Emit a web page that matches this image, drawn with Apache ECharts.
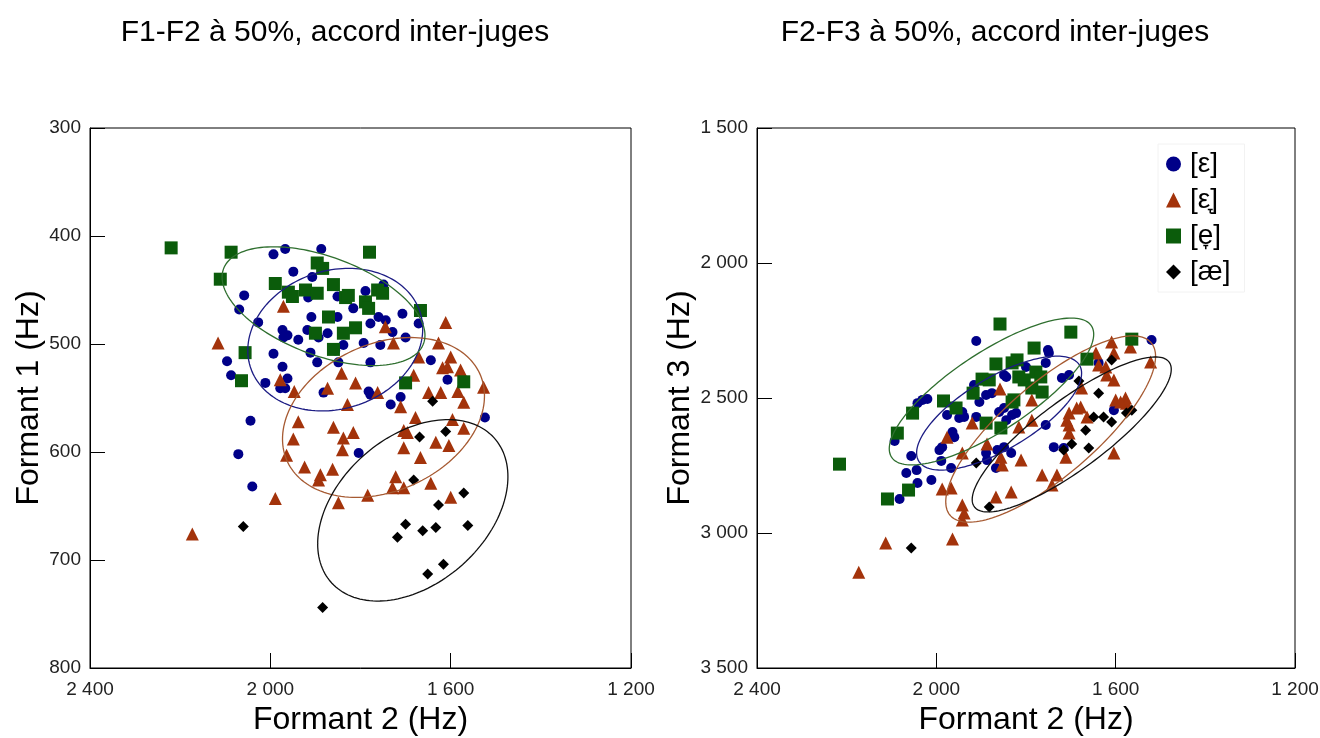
<!DOCTYPE html>
<html><head><meta charset="utf-8">
<script src="https://cdn.jsdelivr.net/npm/echarts@6/dist/echarts.min.js"></script>
<style>html,body{margin:0;padding:0;background:#fff}#c{width:1320px;height:738px}</style>
</head><body><div id="c"></div>
<script>
// ---- Data ----
const seriesNames = ['[ε]', '[ε\u031E]', '[e\u031E]', '[æ]'];
const chartTitles = ['F1-F2 à 50%, accord inter-juges', 'F2-F3 à 50%, accord inter-juges'];
const xTicks = [2400, 2000, 1600, 1200];
const leftYTicks = [300, 400, 500, 600, 700, 800];
const rightYTicks = [1500, 2000, 2500, 3000, 3500];

// Left chart: [F2, F1]
const leftEps = [[1993,417],[1967,412],[1887,412],[1949,433],[1907,438],[2058,455],[2069,468],[2027,480],[1909,475],[1973,487],[1962,492],[1971,494],[1938,496],[1918,487],[1873,490],[1893,494],[1993,509],[2096,516],[1911,508],[1896,517],[1973,521],[2087,529],[2011,536],[1978,541],[1967,541],[1962,532],[1882,545],[1851,456],[1851,475],[1916,457],[1856,506],[1749,445],[1789,451],[1816,467],[1707,472],[1760,475],[1744,478],[1778,481],[1671,481],[1729,489],[1700,494],[1793,499],[1756,501],[1838,501],[1778,517],[1849,517],[1644,515],[1607,533],[1782,544],[1711,549],[2044,571],[2071,602],[2040,632],[1778,547],[1733,556],[1804,601],[1524,568]];
const leftEpsLow = [[1971,465],[2116,499],[1978,533],[1947,544],[1873,541],[1842,527],[1611,480],[1745,484],[1727,499],[1627,499],[1671,512],[1600,512],[1618,522],[1607,521],[1578,524],[1682,529],[1811,536],[1527,540],[1649,545],[1622,545],[1584,544],[1571,554],[1762,545],[1829,556],[1938,572],[1860,577],[1949,588],[1838,587],[1840,598],[1964,603],[1924,614],[1889,621],[1893,626],[1862,616],[1989,643],[1849,647],[2173,676],[1711,558],[1678,568],[1816,582],[1704,580],[1696,582],[1596,570],[1571,578],[1633,591],[1604,594],[1704,596],[1667,605],[1722,623],[1729,633],[1704,633],[1644,629],[1784,640],[1600,642]];
const leftELow = [[2220,411],[2087,415],[2111,440],[1989,444],[1896,425],[1884,430],[1860,445],[1960,452],[1951,456],[1922,450],[1896,453],[1833,457],[1871,475],[1900,490],[1838,490],[1860,505],[2056,508],[2064,534],[1780,415],[1827,455],[1789,461],[1782,467],[1762,450],[1751,453],[1667,469],[1811,485],[1700,536],[1571,535]];
const leftAe = [[2060,669],[1884,744],[1640,553],[1611,581],[1669,586],[1682,626],[1571,638],[1627,649],[1700,667],[1718,679],[1662,673],[1633,670],[1562,668],[1616,704],[1651,713]];
// Ellipses: [centre F2, centre F1, half-width F2, half-height F1, correlation]
const leftEllipses = [[1856,496,194,66,0.15],[1749,568,224,74,0.27],[1882,465,225,55,-0.49],[1684,654,211,84,0.37]];

// Right chart: [F2, F3]
const rightEps = [[1911,2289],[2031,2507],[2020,2504],[2093,2659],[2056,2715],[2067,2778],[2044,2767],[2042,2815],[2011,2804],[2082,2874],[1989,2733],[1967,2759],[1916,2452],[1889,2489],[1876,2482],[1976,2563],[1949,2574],[1938,2570],[1964,2626],[1960,2645],[1987,2682],[1993,2693],[1911,2570],[1860,2552],[1844,2582],[1887,2730],[1867,2759],[1849,2682],[1833,2704],[1844,2422],[1751,2322],[1749,2333],[1756,2370],[1800,2385],[1849,2415],[1720,2426],[1704,2415],[1520,2285],[1638,2370],[1604,2545],[1756,2600],[1738,2682],[1716,2685],[1831,2563],[1822,2556],[1849,2537],[2042,2519],[1904,2515],[1942,2552],[1889,2704],[1864,2693]];
const rightEpsLow = [[1858,2467],[1920,2593],[1976,2645],[1887,2670],[1942,2704],[1856,2719],[1853,2748],[1987,2837],[1967,2833],[1942,2896],[1938,2926],[1942,2952],[1867,2867],[1833,2848],[2113,3037],[1964,3022],[2173,3145],[1609,2293],[1604,2333],[1567,2311],[1644,2333],[1638,2378],[1622,2385],[1522,2367],[1604,2433],[1620,2415],[1676,2463],[1600,2507],[1578,2500],[1576,2519],[1704,2556],[1709,2582],[1678,2533],[1664,2570],[1704,2600],[1704,2630],[1711,2719],[1604,2704],[1787,2582],[1764,2785],[1731,2785],[1742,2822],[1816,2607],[1811,2730],[1787,2507],[1589,2515],[1687,2537]];
const rightELow = [[1858,2226],[2216,2745],[2109,2874],[2087,2630],[2053,2556],[1984,2511],[1956,2537],[1867,2374],[1831,2370],[1898,2430],[1882,2433],[1918,2482],[2062,2841],[1889,2593],[1856,2611],[1827,2507],[1700,2256],[1564,2282],[1782,2315],[1664,2356],[1820,2359],[1778,2404],[1767,2422],[1816,2422],[1804,2433],[1787,2463],[1764,2478],[1831,2515]];
const rightAe = [[1911,2741],[1882,2904],[2056,3056],[1609,2359],[1682,2437],[1638,2482],[1649,2570],[1627,2570],[1609,2589],[1564,2545],[1576,2556],[1667,2619],[1698,2670],[1716,2693],[1660,2685]];
const rightEllipses = [[1860,2556,184,211,0.7],[1745,2615,234,345,0.78],[1877,2476,228,272,0.78],[1698,2635,222,287,0.84]];

// ---- Styles ----
const markerColors = ['#000088', '#a3330b', '#0b5c0b', '#000000'];
const ellipseColors = ['#1c1c84', '#a65a32', '#2f6f2f', '#111111'];
const symbols = ['circle', 'triangle', 'rect', 'diamond'];
const symbolSizes = [10, 13, 13, 11];
const FONT = "'Liberation Sans', Arial, 'DejaVu Sans', sans-serif";

const fmt = v => String(v).replace(/\B(?=(\d{3})+(?!\d))/g, ' ');

function makeX(gridIndex) {
  return {
    gridIndex, type: 'value', min: 1200, max: 2400, interval: 400, inverse: true,
    name: 'Formant 2 (Hz)', nameLocation: 'middle', nameGap: 36,
    nameTextStyle: { fontSize: 32, fontFamily: FONT, color: '#000' },
    axisLine: { show: true, lineStyle: { color: '#000', width: 1 } },
    axisTick: { show: true, inside: true, length: 15, lineStyle: { color: '#000' } },
    axisLabel: { fontSize: 19, fontFamily: FONT, color: '#222', margin: 12, formatter: fmt },
    splitLine: { show: false }
  };
}
function makeY(gridIndex, min, max, interval, name, gap) {
  return {
    gridIndex, type: 'value', min, max, interval, inverse: true,
    name, nameLocation: 'middle', nameGap: gap,
    nameTextStyle: { fontSize: 32, fontFamily: FONT, color: '#000' },
    axisLine: { show: true, lineStyle: { color: '#000', width: 1 } },
    axisTick: { show: true, inside: true, length: 15, lineStyle: { color: '#000' } },
    axisLabel: { fontSize: 19, fontFamily: FONT, color: '#222', margin: 9, formatter: fmt },
    splitLine: { show: false }
  };
}

function ellipseSeries(gi, ellipses) {
  return {
    type: 'custom', xAxisIndex: gi, yAxisIndex: gi, silent: true, z: 3,
    data: ellipses,
    renderItem: function (params, api) {
      const cx = api.value(0), cy = api.value(1), sx = api.value(2), sy = api.value(3), r = api.value(4);
      const pts = [];
      const N = 160;
      for (let i = 0; i <= N; i++) {
        const t = i / N * 2 * Math.PI;
        const x = cx + sx * Math.cos(t);
        const y = cy + sy * (r * Math.cos(t) + Math.sqrt(1 - r * r) * Math.sin(t));
        pts.push(api.coord([x, y]));
      }
      return { type: 'polyline', shape: { points: pts },
        style: { stroke: ellipseColors[params.dataIndex], fill: null, lineWidth: 1.3 } };
    }
  };
}

function scatterSeries(gi, arrays) {
  return arrays.map((arr, i) => ({
    type: 'scatter', name: seriesNames[i], xAxisIndex: gi, yAxisIndex: gi,
    data: arr, symbol: symbols[i], symbolSize: symbolSizes[i],
    itemStyle: { color: markerColors[i], opacity: 1 }, z: 2
  }));
}

const chart = echarts.init(document.getElementById('c'), null, { renderer: 'canvas' });
chart.setOption({
  backgroundColor: '#fff',
  animation: false,
  title: [
    { text: chartTitles[0], left: 330, top: 13, textAlign: 'center',
      textStyle: { fontSize: 30, fontWeight: 'normal', fontFamily: FONT, color: '#000' } },
    { text: chartTitles[1], left: 990, top: 13, textAlign: 'center',
      textStyle: { fontSize: 30, fontWeight: 'normal', fontFamily: FONT, color: '#000' } }
  ],
  legend: {
    data: seriesNames, orient: 'vertical', left: 1158, top: 144,
    itemWidth: 15, itemHeight: 15, itemGap: 8,
    backgroundColor: '#fff', borderColor: '#f2f2f2', borderWidth: 1, padding: [6, 14, 6, 8],
    textStyle: { fontSize: 28, fontFamily: FONT, color: '#000', padding: [0, 0, 0, 4] }
  },
  grid: [
    { left: 90, top: 128, width: 541, height: 540, outerBoundsMode: 'none', containLabel: false,
      show: true, borderColor: '#000', borderWidth: 1, backgroundColor: '#fff' },
    { left: 757, top: 128, width: 538, height: 540, outerBoundsMode: 'none', containLabel: false,
      show: true, borderColor: '#000', borderWidth: 1, backgroundColor: '#fff' }
  ],
  xAxis: [makeX(0), makeX(1)],
  yAxis: [
    makeY(0, 300, 800, 100, 'Formant 1 (Hz)', 37),
    makeY(1, 1500, 3500, 500, 'Formant 3 (Hz)', 60)
  ],
  series: [
    ...scatterSeries(0, [leftEps, leftEpsLow, leftELow, leftAe]),
    ellipseSeries(0, leftEllipses),
    ...scatterSeries(1, [rightEps, rightEpsLow, rightELow, rightAe]),
    ellipseSeries(1, rightEllipses)
  ]
});
</script></body></html>
